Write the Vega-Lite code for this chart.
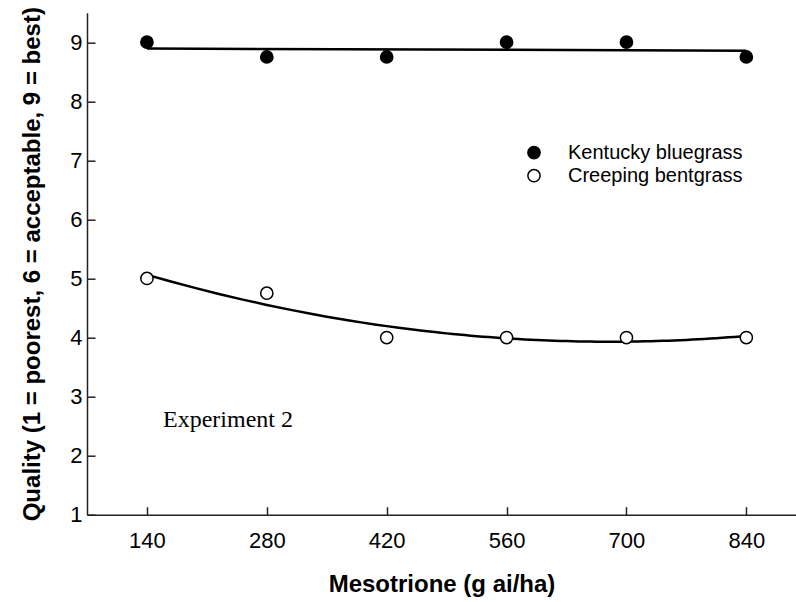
{
  "$schema": "https://vega.github.io/schema/vega-lite/v6.json",
  "width": 709,
  "height": 502,
  "autosize": {"type": "none"},
  "padding": {"left": 87, "top": 12.7, "right": 0, "bottom": 87.3},
  "background": "white",
  "config": {"view": {"stroke": null}, "font": "Liberation Sans"},
  "datasets": {
    "obs": [
      {"rate": 140, "quality": 9, "species": "Kentucky bluegrass"},
      {"rate": 280, "quality": 8.75, "species": "Kentucky bluegrass"},
      {"rate": 420, "quality": 8.75, "species": "Kentucky bluegrass"},
      {"rate": 560, "quality": 9, "species": "Kentucky bluegrass"},
      {"rate": 700, "quality": 9, "species": "Kentucky bluegrass"},
      {"rate": 840, "quality": 8.75, "species": "Kentucky bluegrass"},
      {"rate": 140, "quality": 5, "species": "Creeping bentgrass"},
      {"rate": 280, "quality": 4.75, "species": "Creeping bentgrass"},
      {"rate": 420, "quality": 4, "species": "Creeping bentgrass"},
      {"rate": 560, "quality": 4, "species": "Creeping bentgrass"},
      {"rate": 700, "quality": 4, "species": "Creeping bentgrass"},
      {"rate": 840, "quality": 4, "species": "Creeping bentgrass"}
    ],
    "note": [{"rate": 158.8, "quality": 2.485, "label": "Experiment 2"}]
  },
  "encoding": {
    "x": {
      "field": "rate", "type": "quantitative",
      "scale": {"domain": [70, 898], "nice": false, "zero": false},
      "axis": {
        "values": [140, 280, 420, 560, 700, 840],
        "title": "Mesotrione (g ai/ha)",
        "titleFont": "Liberation Sans", "titleFontSize": 24, "titleFontWeight": "bold", "titleColor": "black",
        "titlePadding": 21,
        "labelFont": "Liberation Sans", "labelFontSize": 22, "labelColor": "black", "labelPadding": 24,
        "grid": false, "domainColor": "#222", "domainWidth": 1.5,
        "tickColor": "#222", "tickWidth": 1.5, "tickSize": -8
      }
    },
    "y": {
      "field": "quality", "type": "quantitative",
      "scale": {"domain": [1, 9.5], "nice": false, "zero": false},
      "axis": {
        "values": [1, 2, 3, 4, 5, 6, 7, 8, 9],
        "title": "Quality (1 = poorest, 6 = acceptable, 9 = best)",
        "titleFont": "Liberation Sans", "titleFontSize": 24, "titleFontWeight": "bold", "titleColor": "black",
        "titlePadding": 25,
        "labelFont": "Liberation Sans", "labelFontSize": 22, "labelColor": "black", "labelPadding": 13,
        "grid": false, "domainColor": "#222", "domainWidth": 1.5,
        "tickColor": "#222", "tickWidth": 1.5, "tickSize": -8
      }
    }
  },
  "layer": [
    {
      "data": {"name": "obs"},
      "transform": [
        {"filter": "datum.species === 'Kentucky bluegrass'"},
        {"regression": "quality", "on": "rate", "extent": [140, 840]}
      ],
      "mark": {"type": "line", "color": "black", "strokeWidth": 2.5}
    },
    {
      "data": {"name": "obs"},
      "transform": [
        {"filter": "datum.species === 'Creeping bentgrass'"},
        {"regression": "quality", "on": "rate", "method": "poly", "order": 2, "extent": [140, 840]}
      ],
      "mark": {"type": "line", "color": "black", "strokeWidth": 2.5, "interpolate": "monotone"}
    },
    {
      "data": {"name": "obs"},
      "mark": {"type": "point", "shape": "circle", "filled": true, "size": 150, "stroke": "black", "strokeWidth": 1.5, "opacity": 1},
      "encoding": {
        "fill": {
          "field": "species", "type": "nominal",
          "scale": {"domain": ["Kentucky bluegrass", "Creeping bentgrass"], "range": ["black", "white"]},
          "legend": {
            "title": null, "orient": "none", "legendX": 437, "legendY": 130,
            "labelFont": "Liberation Sans", "labelFontSize": 20, "labelColor": "black", "labelLimit": 0,
            "labelOffset": 24, "symbolSize": 150, "symbolStrokeColor": "black", "symbolStrokeWidth": 1.5,
            "rowPadding": 3, "symbolType": "circle"
          }
        }
      }
    },
    {
      "data": {"name": "note"},
      "mark": {"type": "text", "font": "Liberation Serif", "fontSize": 24, "align": "left", "baseline": "alphabetic", "color": "black"},
      "encoding": {"text": {"field": "label"}}
    }
  ]
}
